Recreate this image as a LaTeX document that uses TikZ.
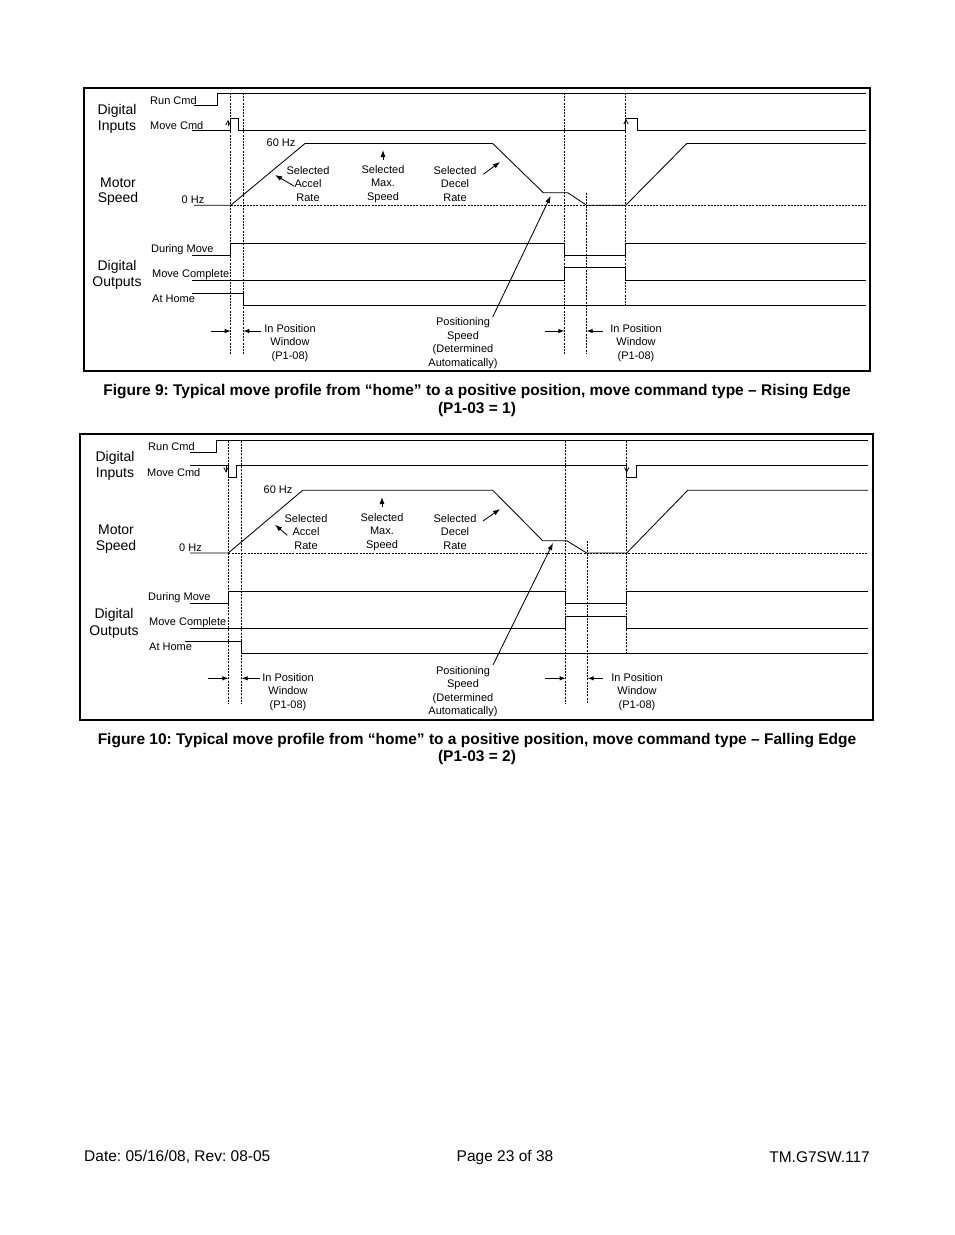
\documentclass[tikz,border=0pt]{standalone}
\usepackage{fontspec}
\setmainfont{Liberation Sans}
\usetikzlibrary{arrows.meta}
\frenchspacing
\begin{document}
\begin{tikzpicture}[x=1pt,y=-1pt,
  frame/.style={draw=black,line width=2pt},
  sig/.style={draw=black,line width=0.85pt,line join=miter},
  vdash/.style={draw=black,line width=0.75pt,dash pattern=on 2pt off 1.2pt},
  hdash/.style={draw=black,line width=0.75pt,dash pattern=on 2pt off 1.2pt},
  win/.style={draw=black,line width=0.9pt,-{Latex[length=6pt,width=4.5pt]}},
  pointer/.style={draw=black,line width=0.85pt,-{Latex[length=7pt,width=5pt]}},
  caret/.style={draw=black,line width=0.8pt},
  lbl/.style={inner sep=0pt,font=\fontsize{11}{13.5}\selectfont,align=center,yshift=-1.2pt},
  big/.style={inner sep=0pt,font=\fontsize{14}{16}\selectfont,align=center,yshift=-1.8pt},
  capt/.style={inner sep=0pt,font=\fontsize{15.5}{18}\selectfont\bfseries,align=center,yshift=-2.5pt},
  foot/.style={inner sep=0pt,font=\fontsize{15.5}{18}\selectfont,yshift=-2pt}]
\useasboundingbox[fill=white] (0,0) rectangle (954,1235);

% ================= FIGURE 9 =================
\draw[frame] (84,88) rectangle (870,371);
% vertical dashed lines
\draw[vdash] (230.7,93) -- (230.7,354);
\draw[vdash] (243.3,93) -- (243.3,354);
\draw[vdash] (564.3,93) -- (564.3,354);
\draw[vdash] (586.7,192.7) -- (586.7,354);
\draw[vdash] (625.7,93) -- (625.7,305);
% inputs
\draw[sig] (194,105) -- (217,105) -- (217,93) -- (866,93);
\draw[sig] (192,130) -- (230.7,130) -- (230.7,118) -- (238,118) -- (238,130)
  -- (625.7,130) -- (625.7,118) -- (637,118) -- (637,130) -- (866,130);
\draw[caret] (225.8,125) -- (228,120.8) -- (230.2,125);
\draw[caret] (228,120.8) -- (228,126);
\draw[caret] (623.8,124) -- (626,119.8) -- (628.2,124);
% motor speed
\draw[hdash] (230.7,205.3) -- (866,205.3);
\draw[sig] (194,205.3) -- (230.7,205.3) -- (305,143.5) -- (492.7,143.5) -- (543.3,192.7)
  -- (567.7,192.7) -- (586.7,205.3) -- (625.7,205.3) -- (686.7,143.5) -- (866,143.5);
% outputs
\draw[sig] (192.3,255.7) -- (230.7,255.7) -- (230.7,243.3) -- (564.3,243.3) -- (564.3,255.7)
  -- (625.7,255.7) -- (625.7,243.3) -- (866,243.3);
\draw[sig] (192.3,280.7) -- (564.3,280.7) -- (564.3,267.7) -- (625.7,267.7) -- (625.7,280.7) -- (866,280.7);
\draw[sig] (192.3,293.3) -- (243.3,293.3) -- (243.3,305) -- (866,305);
% window arrows
\coordinate (a1s) at (210.7,331); \coordinate (a1e) at (230.7,331);
\coordinate (a2s) at (260.7,331); \coordinate (a2e) at (243.3,331);
\coordinate (a3s) at (545,331);   \coordinate (a3e) at (564.3,331);
\coordinate (a4s) at (603.3,331); \coordinate (a4e) at (586.7,331);
\draw[win] (a1s) -- (a1e);
\draw[win] (a2s) -- (a2e);
\draw[win] (a3s) -- (a3e);
\draw[win] (a4s) -- (a4e);
% labels
\node[big] (di1) at (117,109) {Digital};
\node[big] (in1) at (117,125) {Inputs};
\node[big] (mo1) at (118,181) {Motor};
\node[big] (sp1) at (118,197) {Speed};
\node[big] (do1) at (117,265) {Digital};
\node[big] (ou1) at (117,281) {Outputs};
\node[lbl,anchor=west] (run1) at (150,99) {Run Cmd};
\node[lbl,anchor=west] (mov1) at (150,124) {Move Cmd};
\node[lbl] (hz60a) at (281,142) {60 Hz};
\node[lbl,anchor=east] (hz0a) at (204.5,198.5) {0 Hz};
\node[lbl,anchor=west] (dm1) at (151,248) {During Move};
\node[lbl,anchor=west] (mc1) at (152,273) {Move Complete};
\node[lbl,anchor=west] (ah1) at (152,298) {At Home};
\node[lbl] (acc1) at (308,182.5) {Selected\\Accel\\Rate};
\node[lbl] (max1) at (383,182.5) {Selected\\Max.\\Speed};
\node[lbl] (dec1) at (455,182.5) {Selected\\Decel\\Rate};
\node[lbl] (pos1) at (463,342) {Positioning\\Speed\\(Determined\\Automatically)};
\node[lbl] (ipw1) at (290,341.5) {In Position\\Window\\(P1-08)};
\node[lbl] (ipw2) at (636,341.5) {In Position\\Window\\(P1-08)};
\coordinate (accT1) at (275,175);
\coordinate (maxT1) at (383,150);
\coordinate (decT1) at (500,162);
\coordinate (posT1) at (550.7,196);
\draw[pointer] (294,186) -- (accT1);
\draw[pointer] (383,159.5) -- (maxT1);
\draw[pointer] (483.3,174.3) -- (decT1);
\draw[pointer] (492.7,317) -- (posT1);
\node[capt] (cap9a) at (477,389) {Figure 9: Typical move profile from “home” to a positive position, move command type – Rising Edge};
\node[capt] (cap9b) at (477,407) {(P1-03 = 1)};

% ================= FIGURE 10 =================
\draw[frame] (80,434) rectangle (873,720);
\draw[vdash] (228.3,440.5) -- (228.3,703.3);
\draw[vdash] (241.7,440.5) -- (241.7,703.3);
\draw[vdash] (565.7,440.5) -- (565.7,703.3);
\draw[vdash] (587.7,540.7) -- (587.7,703.3);
\draw[vdash] (626.7,440.5) -- (626.7,653.3);
% inputs
\draw[sig] (190,452) -- (216,452) -- (216,440.5) -- (868,440.5);
\draw[sig] (190,465.3) -- (228.3,465.3) -- (228.3,477.7) -- (236.7,477.7) -- (236.7,465.3)
  -- (626.7,465.3) -- (626.7,477.7) -- (636.7,477.7) -- (636.7,465.3) -- (868,465.3);
\draw[caret] (223.8,467.5) -- (226,471.7) -- (228.2,467.5);
\draw[caret] (226,466) -- (226,471.7);
\draw[caret] (624.5,467.5) -- (626.7,471.7) -- (628.9,467.5);
% motor speed
\draw[hdash] (228.3,553) -- (868,553);
\draw[sig] (190,553) -- (228.3,553) -- (302.7,490.3) -- (492.7,490.3) -- (542.7,540.7)
  -- (566.7,540.7) -- (586.7,553) -- (626.7,553) -- (687.7,490.3) -- (868,490.3);
% outputs
\draw[sig] (190,603.3) -- (228.3,603.3) -- (228.3,591) -- (565.7,591) -- (565.7,603.3)
  -- (626.7,603.3) -- (626.7,591) -- (868,591);
\draw[sig] (190,628.3) -- (565.7,628.3) -- (565.7,616) -- (626.7,616) -- (626.7,628.3) -- (868,628.3);
\draw[sig] (185,641) -- (241.7,641) -- (241.7,653.3) -- (868,653.3);
% window arrows
\coordinate (b1s) at (208.3,678.3); \coordinate (b1e) at (228.3,678.3);
\coordinate (b2s) at (260,678.3);   \coordinate (b2e) at (241.7,678.3);
\coordinate (b3s) at (545,678.3);   \coordinate (b3e) at (565.7,678.3);
\coordinate (b4s) at (603.3,678.3); \coordinate (b4e) at (587.7,678.3);
\draw[win] (b1s) -- (b1e);
\draw[win] (b2s) -- (b2e);
\draw[win] (b3s) -- (b3e);
\draw[win] (b4s) -- (b4e);
% labels
\node[big] (di2) at (115,456) {Digital};
\node[big] (in2) at (115,472) {Inputs};
\node[big] (mo2) at (116,528) {Motor};
\node[big] (sp2) at (116,545) {Speed};
\node[big] (do2) at (114,613) {Digital};
\node[big] (ou2) at (114,630) {Outputs};
\node[lbl,anchor=west] (run2) at (148,445) {Run Cmd};
\node[lbl,anchor=west] (mov2) at (147,471) {Move Cmd};
\node[lbl] (hz60b) at (278,489) {60 Hz};
\node[lbl,anchor=east] (hz0b) at (202,546.5) {0 Hz};
\node[lbl,anchor=west] (dm2) at (148,596) {During Move};
\node[lbl,anchor=west] (mc2) at (149,621) {Move Complete};
\node[lbl,anchor=west] (ah2) at (149,646) {At Home};
\node[lbl] (acc2) at (306,530.5) {Selected\\Accel\\Rate};
\node[lbl] (max2) at (382,530.5) {Selected\\Max.\\Speed};
\node[lbl] (dec2) at (455,530.5) {Selected\\Decel\\Rate};
\node[lbl] (pos2) at (463,690.5) {Positioning\\Speed\\(Determined\\Automatically)};
\node[lbl] (ipw3) at (288,690.5) {In Position\\Window\\(P1-08)};
\node[lbl] (ipw4) at (637,690.5) {In Position\\Window\\(P1-08)};
\coordinate (accT2) at (275,524.7);
\coordinate (maxT2) at (382,497);
\coordinate (decT2) at (500,509);
\coordinate (posT2) at (553,543);
\draw[pointer] (287.3,535.3) -- (accT2);
\draw[pointer] (382,507) -- (maxT2);
\draw[pointer] (483,521) -- (decT2);
\draw[pointer] (493,665) -- (posT2);
\node[capt] (cap10a) at (477,738) {Figure 10: Typical move profile from “home” to a positive position, move command type – Falling Edge};
\node[capt] (cap10b) at (477,755) {(P1-03 = 2)};

% ================= FOOTER =================
\node[foot,anchor=west] (f1) at (84,1155) {Date: 05/16/08, Rev: 08-05};
\node[foot] (f2) at (505,1155) {Page 23 of 38};
\node[foot,anchor=east] (f3) at (870,1155) {TM.G7SW.117};
\end{tikzpicture}
\end{document}
